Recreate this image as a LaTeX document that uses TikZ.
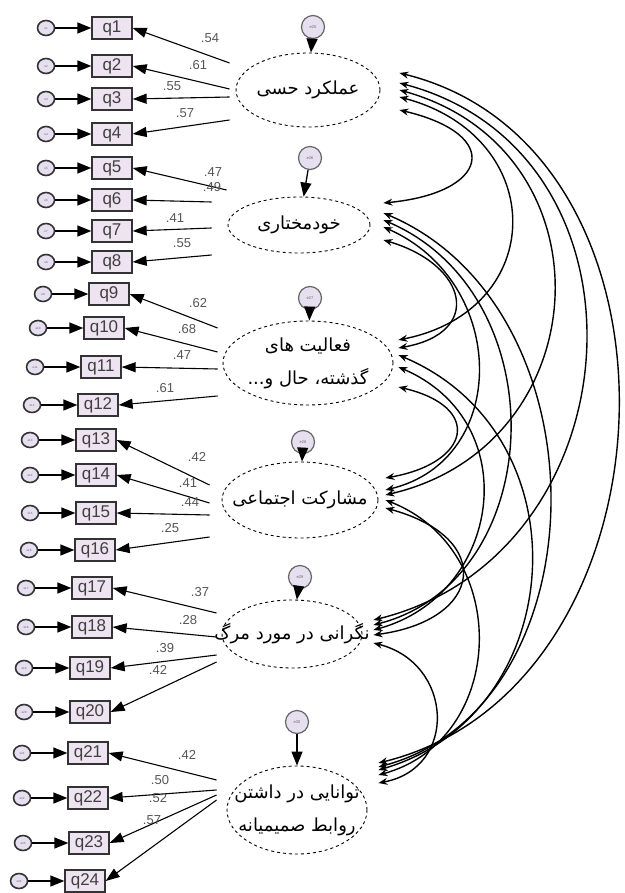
\documentclass[tikz,border=0pt]{standalone}
\usepackage{fontspec}
\setmainfont{Liberation Sans}
\newfontfamily\persianfont[Script=Arabic]{DejaVu Sans}
\TeXXeTstate=1
\usetikzlibrary{arrows.meta,shapes.geometric,positioning}
\definecolor{errfill}{HTML}{E6DFF0}
\definecolor{boxfill}{HTML}{EEE3F0}
\definecolor{coefgray}{HTML}{555555}

\tikzset{
  item/.style={draw=black!80, line width=1.3pt, fill=boxfill, minimum width=40pt, minimum height=22pt, inner sep=0pt, font=\fontsize{17}{17}\selectfont, text=black!75},
  err/.style={ellipse, draw=black!80, line width=1.6pt, fill=errfill, minimum width=17pt, minimum height=15pt, inner sep=0pt, font=\fontsize{3}{3}\selectfont, text=black!60},
  toperr/.style={circle, draw=black!60, line width=1.2pt, fill=errfill, minimum size=23pt, inner sep=0pt, font=\fontsize{4}{4}\selectfont, text=black!60},
  latent/.style={ellipse, draw, dashed, line width=0.9pt, inner sep=0pt},
  ftext/.style={font=\persianfont\fontsize{18}{33}\selectfont, align=center, inner sep=0pt},
  errarr/.style={-{Triangle[length=14pt,width=11pt]}, line width=1.3pt},
  load/.style={-{Triangle[length=14pt,width=10pt]}, line width=1.1pt},
  cov/.style={{Stealth[length=9pt,width=7pt]}-{Stealth[length=9pt,width=7pt]}, line width=1.4pt},
  coef/.style={font=\fontsize{13}{13}\selectfont, text=coefgray, inner sep=0pt},
}

\begin{document}
\begin{tikzpicture}[x=1pt, y=-1pt]
    \useasboundingbox (0, 0) rectangle (624, 893);
    % Factors and their residuals:
    \node[latent, minimum width=144pt, minimum height=74pt](f1) at (308, 90){} node[ftext](t1) at (f1.center){\beginR عملکرد حسی\endR};
    \node[latent, minimum width=142pt, minimum height=56pt](f2) at (299, 225){} node[ftext](t2) at (f2.center){\beginR خودمختاری\endR};
    \node[latent, minimum width=170pt, minimum height=84pt](f3) at (308, 363){} node[ftext](t3) at (f3.center){\beginR فعالیت های\endR\\\beginR گذشته، حال و...\endR};
    \node[latent, minimum width=156pt, minimum height=76pt](f4) at (300, 500){} node[ftext](t4) at (f4.center){\beginR مشارکت اجتماعی\endR};
    \node[latent, minimum width=140pt, minimum height=68pt](f5) at (292, 634){} node[ftext](t5) at (f5.center){\beginR نگرانی در مورد مرگ\endR};
    \node[latent, minimum width=140pt, minimum height=88pt](f6) at (297, 810){} node[ftext](t6) at (f6.center){\beginR توانایی در داشتن\endR\\\beginR روابط صمیمیانه\endR};
    \node[toperr](e25) at (313, 27){e25};
    \node[toperr](e26) at (310, 158){e26};
    \node[toperr](e27) at (310, 298){e27};
    \node[toperr](e28) at (303, 442){e28};
    \node[toperr](e29) at (300, 577){e29};
    \node[toperr](e30) at (297, 722){e30};
    \draw[errarr] (e25) -- (f1);
    \draw[errarr] (e26) -- (f2);
    \draw[errarr] (e27) -- (f3);
    \draw[errarr] (e28) -- (f4);
    \draw[errarr] (e29) -- (f5);
    \draw[errarr] (e30) -- (f6);
    % Items q1 to q24:
    \node[item](q1) at (112, 28){q1} node[err, left=36pt of q1](e1){e1};
    \draw[errarr] (e1) -- (q1);
    \draw[load] ([shift={(-6,-27)}]f1.west) -- (q1.east) node[coef](l1) at (210, 38){.54};
    \node[item](q2) at (112, 66){q2} node[err, left=36pt of q2](e2){e2};
    \draw[errarr] (e2) -- (q2);
    \draw[load] ([shift={(-6,-1)}]f1.west) -- (q2.east) node[coef](l2) at (198, 65){.61};
    \node[item](q3) at (112, 99){q3} node[err, left=36pt of q3](e3){e3};
    \draw[errarr] (e3) -- (q3);
    \draw[load] ([shift={(-6,7)}]f1.west) -- (q3.east) node[coef](l3) at (172, 86){.55};
    \node[item](q4) at (112, 134){q4} node[err, left=36pt of q4](e4){e4};
    \draw[errarr] (e4) -- (q4);
    \draw[load] ([shift={(-6,30)}]f1.west) -- (q4.east) node[coef](l4) at (185, 113){.57};
    \node[item](q5) at (112, 168){q5} node[err, left=36pt of q5](e5){e5};
    \draw[errarr] (e5) -- (q5);
    \draw[load] ([shift={(-1,-35)}]f2.west) -- (q5.east) node[coef](l5) at (213, 172){.47};
    \node[item](q6) at (112, 200){q6} node[err, left=36pt of q6](e6){e6};
    \draw[errarr] (e6) -- (q6);
    \draw[load] ([shift={(-16,-23)}]f2.west) -- (q6.east) node[coef](l6) at (212, 187){.49};
    \node[item](q7) at (112, 231){q7} node[err, left=36pt of q7](e7){e7};
    \draw[errarr] (e7) -- (q7);
    \draw[load] ([shift={(-16,3)}]f2.west) -- (q7.east) node[coef](l7) at (175, 218){.41};
    \node[item](q8) at (112, 262){q8} node[err, left=36pt of q8](e8){e8};
    \draw[errarr] (e8) -- (q8);
    \draw[load] ([shift={(-16,30)}]f2.west) -- (q8.east) node[coef](l8) at (182, 243){.55};
    \node[item](q9) at (109, 294){q9} node[err, left=36pt of q9](e9){e9};
    \draw[errarr] (e9) -- (q9);
    \draw[load] ([shift={(-5,-35)}]f3.west) -- (q9.east) node[coef](l9) at (198, 303){.62};
    \node[item](q10) at (104, 328){q10} node[err, left=36pt of q10](e10){e10};
    \draw[errarr] (e10) -- (q10);
    \draw[load] ([shift={(-5,-11)}]f3.west) -- (q10.east) node[coef](l10) at (187, 329){.68};
    \node[item](q11) at (101, 367){q11} node[err, left=36pt of q11](e11){e11};
    \draw[errarr] (e11) -- (q11);
    \draw[load] ([shift={(-5,6)}]f3.west) -- (q11.east) node[coef](l11) at (182, 355){.47};
    \node[item](q12) at (98, 405){q12} node[err, left=36pt of q12](e12){e12};
    \draw[errarr] (e12) -- (q12);
    \draw[load] ([shift={(-5,33)}]f3.west) -- (q12.east) node[coef](l12) at (165, 388){.61};
    \node[item](q13) at (96, 440){q13} node[err, left=36pt of q13](e13){e13};
    \draw[errarr] (e13) -- (q13);
    \draw[load] ([shift={(-12,-15)}]f4.west) -- (q13.east) node[coef](l13) at (197, 457){.42};
    \node[item](q14) at (96, 475){q14} node[err, left=36pt of q14](e14){e14};
    \draw[errarr] (e14) -- (q14);
    \draw[load] ([shift={(-12,3)}]f4.west) -- (q14.east) node[coef](l14) at (188, 483){.41};
    \node[item](q15) at (96, 513){q15} node[err, left=36pt of q15](e15){e15};
    \draw[errarr] (e15) -- (q15);
    \draw[load] ([shift={(-12,15)}]f4.west) -- (q15.east) node[coef](l15) at (190, 502){.44};
    \node[item](q16) at (95, 550){q16} node[err, left=36pt of q16](e16){e16};
    \draw[errarr] (e16) -- (q16);
    \draw[load] ([shift={(-12,37)}]f4.west) -- (q16.east) node[coef](l16) at (170, 528){.25};
    \node[item](q17) at (92, 588){q17} node[err, left=36pt of q17](e17){e17};
    \draw[errarr] (e17) -- (q17);
    \draw[load] ([shift={(-5,-21)}]f5.west) -- (q17.east) node[coef](l17) at (200, 592){.37};
    \node[item](q18) at (92, 627){q18} node[err, left=36pt of q18](e18){e18};
    \draw[errarr] (e18) -- (q18);
    \draw[load] ([shift={(-5,3)}]f5.west) -- (q18.east) node[coef](l18) at (188, 620){.28};
    \node[item](q19) at (90, 668){q19} node[err, left=36pt of q19](e19){e19};
    \draw[errarr] (e19) -- (q19);
    \draw[load] ([shift={(-5,21)}]f5.west) -- (q19.east) node[coef](l19) at (165, 648){.39};
    \node[item](q20) at (90, 712){q20} node[err, left=36pt of q20](e20){e20};
    \draw[errarr] (e20) -- (q20);
    \draw[load] ([shift={(-5,28)}]f5.west) -- (q20.east) node[coef](l20) at (158, 670){.42};
    \node[item](q21) at (88, 753){q21} node[err, left=36pt of q21](e21){e21};
    \draw[errarr] (e21) -- (q21);
    \draw[load] ([shift={(-10,-30)}]f6.west) -- (q21.east) node[coef](l21) at (187, 755){.42};
    \node[item](q22) at (88, 798){q22} node[err, left=36pt of q22](e22){e22};
    \draw[errarr] (e22) -- (q22);
    \draw[load] ([shift={(-10,-20)}]f6.west) -- (q22.east) node[coef](l22) at (160, 780){.50};
    \node[item](q23) at (89, 843){q23} node[err, left=36pt of q23](e23){e23};
    \draw[errarr] (e23) -- (q23);
    \draw[load] ([shift={(-10,-15)}]f6.west) -- (q23.east) node[coef](l23) at (158, 798){.52};
    \node[item](q24) at (85, 881){q24} node[err, left=36pt of q24](e24){e24};
    \draw[errarr] (e24) -- (q24);
    \draw[load] ([shift={(-10,-10)}]f6.west) -- (q24.east) node[coef](l24) at (152, 820){.57};
    % Covariances between the factors:
    \draw[cov] ([shift={(19,20)}]f1.east) .. controls +(105,25) and +(105,-10) .. ([shift={(13,-22)}]f2.east);
    \draw[cov] ([shift={(19,7)}]f1.east) .. controls +(150,40) and +(150,-30) .. ([shift={(5,-23)}]f3.east);
    \draw[cov] ([shift={(19,0)}]f1.east) .. controls +(215,60) and +(215,-50) .. ([shift={(7,-5)}]f4.east);
    \draw[cov] ([shift={(19,-7)}]f1.east) .. controls +(265,70) and +(265,-65) .. ([shift={(11,-14)}]f5.east);
    \draw[cov] ([shift={(19,-17)}]f1.east) .. controls +(305,75) and +(305,-75) .. ([shift={(11,-47)}]f6.east);
    \draw[cov] ([shift={(13,15)}]f2.east) .. controls +(85,25) and +(85,-15) .. ([shift={(5,-15)}]f3.east);
    \draw[cov] ([shift={(13,2)}]f2.east) .. controls +(125,55) and +(125,-30) .. ([shift={(7,-10)}]f4.east);
    \draw[cov] ([shift={(13,-5)}]f2.east) .. controls +(175,75) and +(175,-45) .. ([shift={(11,-9)}]f5.east);
    \draw[cov] ([shift={(13,-12)}]f2.east) .. controls +(225,95) and +(225,-60) .. ([shift={(11,-43)}]f6.east);
    \draw[cov] ([shift={(5,24)}]f3.east) .. controls +(85,20) and +(85,-15) .. ([shift={(7,-22)}]f4.east);
    \draw[cov] ([shift={(5,4)}]f3.east) .. controls +(128,55) and +(128,-35) .. ([shift={(11,-4)}]f5.east);
    \draw[cov] ([shift={(5,-8)}]f3.east) .. controls +(190,80) and +(190,-55) .. ([shift={(11,-40)}]f6.east);
    \draw[cov] ([shift={(7,8)}]f4.east) .. controls +(110,30) and +(110,-15) .. ([shift={(11,1)}]f5.east);
    \draw[cov] ([shift={(7,0)}]f4.east) .. controls +(128,50) and +(128,-35) .. ([shift={(11,-35)}]f6.east);
    \draw[cov] ([shift={(11,9)}]f5.east) .. controls +(80,20) and +(80,-15) .. ([shift={(11,-27)}]f6.east);
\end{tikzpicture}
\end{document}
